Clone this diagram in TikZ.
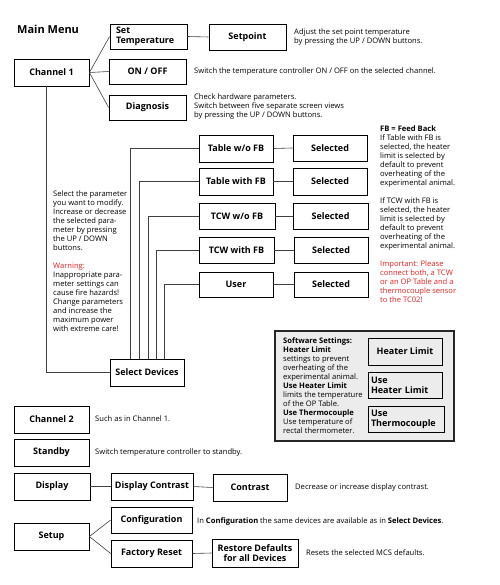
\documentclass[tikz,border=0pt]{standalone}
\usepackage{fontspec}
\setmainfont{Open Sans}
\usetikzlibrary{shadows}
\definecolor{warnred}{RGB}{230,30,30}
\definecolor{swgray}{RGB}{236,236,236}
\begin{document}
\begin{tikzpicture}[x=1pt,y=-1pt,
  box/.style={draw=black, line width=0.8pt, fill=white, inner sep=1pt,
    font=\fontsize{9}{10}\selectfont\bfseries, align=center,
    drop shadow={shadow xshift=0.6pt, shadow yshift=-0.6pt, fill=black!60, opacity=1}},
  lbox/.style={box, align=left, text width=#1, inner xsep=3pt},
  small/.style={font=\fontsize{7.6}{9}\selectfont, inner sep=0pt, align=left},
  conn/.style={draw=black!75, line width=0.6pt}]
\useasboundingbox (0,0) rectangle (499,585);

\node[font=\fontsize{11}{12}\selectfont\bfseries, anchor=west, inner sep=0pt] (title) at (17,29) {Main Menu};

% Channel 1 branch
\node[box, minimum width=75, minimum height=27] (ch1) at (51.5,72.5) {Channel 1};
\node[lbox=65, minimum width=77, minimum height=25, font=\fontsize{9}{10}\selectfont\bfseries] (settemp) at (148.5,36.5) {Set\\Temperature};
\node[box, minimum width=77, minimum height=26] (setpoint) at (247.5,37) {Setpoint};
\node[box, minimum width=77, minimum height=25] (onoff) at (147.5,71.5) {ON / OFF};
\node[box, minimum width=77, minimum height=25] (diag) at (147.5,107.5) {Diagnosis};

\node[small, anchor=north west] (t1) at (294,29) {Adjust the set point temperature\\by pressing the UP / DOWN buttons.};
\node[small, anchor=west] (t2) at (194,72) {Switch the temperature controller ON / OFF on the selected channel.};
\node[small, anchor=north west] (t3) at (194,94) {Check hardware parameters.\\Switch between five separate screen views\\by pressing the UP / DOWN buttons.};

\draw[conn] (ch1.east) -- (settemp.west);
\draw[conn] (ch1.east) -- (onoff.west);
\draw[conn] (ch1.east) -- (diag.west);
\draw[conn] (settemp.east) -- (setpoint.west);

% Devices
\node[box, minimum width=74, minimum height=27] (tab1) at (236,148.5) {Table w/o FB};
\node[box, minimum width=74, minimum height=26] (sel1) at (330,148) {Selected};
\node[box, minimum width=74, minimum height=27] (tab2) at (236,181.5) {Table with FB};
\node[box, minimum width=74, minimum height=27] (sel2) at (330,181.5) {Selected};
\node[box, minimum width=76, minimum height=26] (tcw1) at (237,216) {TCW w/o FB};
\node[box, minimum width=75, minimum height=26] (sel3) at (330.5,216) {Selected};
\node[box, minimum width=75, minimum height=26] (tcw2) at (236.5,250) {TCW with FB};
\node[box, minimum width=74, minimum height=26] (sel4) at (331,250) {Selected};
\node[box, minimum width=74, minimum height=25] (user) at (236,284.5) {User};
\node[box, minimum width=74, minimum height=25] (sel5) at (331,284.5) {Selected};
\node[box, minimum width=74, minimum height=27] (seldev) at (147,372.5) {Select Devices};

\draw[conn] (tab1.east) -- (sel1.west);
\draw[conn] (tab2.east) -- (sel2.west);
\draw[conn] (tcw1.east) -- (sel3.west);
\draw[conn] (tcw2.east) -- (sel4.west);
\draw[conn] (user.east) -- (sel5.west);

\coordinate (v0) at (46,0);
\coordinate (v1) at (130,0);
\coordinate (v2) at (139,0);
\coordinate (v3) at (148,0);
\coordinate (v4) at (156,0);
\coordinate (v5) at (164,0);
\draw[conn] (ch1.south -| v0) |- (seldev.west);
\draw[conn] (seldev.north -| v1) |- (tab1.west);
\draw[conn] (seldev.north -| v2) |- (tab2.west);
\draw[conn] (seldev.north -| v3) |- (tcw1.west);
\draw[conn] (seldev.north -| v4) |- (tcw2.west);
\draw[conn] (seldev.north -| v5) |- (user.west);

\node[small, anchor=north west] (t4) at (53,191) {Select the parameter\\you want to modify.\\Increase or decrease\\the selected para-\\meter by pressing\\the UP / DOWN\\buttons.\\[9pt]
\textcolor{warnred}{Warning:}\\Inappropriate para-\\meter settings can\\cause fire hazards!\\Change parameters\\and increase the\\maximum power\\with extreme care!};

\node[small, anchor=north west] (t5) at (380,126) {\textbf{FB = Feed Back}\\If Table with FB is\\selected, the heater\\limit is selected by\\default to prevent\\overheating of the\\experimental animal.\\[9pt]
If TCW with FB is\\selected, the heater\\limit is selected by\\default to prevent\\overheating of the\\experimental animal.\\[9pt]
\textcolor{warnred}{Important: Please}\\\textcolor{warnred}{connect both, a TCW}\\\textcolor{warnred}{or an OP Table and a}\\\textcolor{warnred}{thermocouple sensor}\\\textcolor{warnred}{to the TC02!}};

% Software settings
\node[draw=black!85, line width=1.3pt, fill=swgray, minimum width=179, minimum height=110, inner sep=0pt] (sw) at (364.5,386) {};
\node[small, anchor=north west] (t6) at (283,337) {\textbf{Software Settings:}\\\textbf{Heater Limit}\\settings to prevent\\overheating of the\\experimental animal.\\\textbf{Use Heater Limit}\\limits the temperature\\of the OP Table.\\\textbf{Use Thermocouple}\\Use temperature of\\rectal thermometer.};
\node[box, minimum width=74, minimum height=27, fill=swgray] (hl) at (405,351.5) {Heater Limit};
\node[lbox=68, minimum width=74, minimum height=26, fill=swgray, font=\fontsize{9}{10}\selectfont\bfseries] (uhl) at (405,385) {Use\\Heater Limit};
\node[lbox=70, minimum width=76, minimum height=26, fill=swgray, font=\fontsize{9}{10}\selectfont\bfseries] (utc) at (406,419) {Use\\Thermocouple};

% Lower menu
\node[box, minimum width=75, minimum height=27] (ch2) at (51.5,419.5) {Channel 2};
\node[small, anchor=west] (t7) at (95,419) {Such as in Channel 1.};
\node[box, minimum width=75, minimum height=27] (standby) at (51.5,452.5) {Standby};
\node[small, anchor=west] (t8) at (95,453) {Switch temperature controller to standby.};

\node[box, minimum width=76, minimum height=27] (display) at (52,486.5) {Display};
\node[box, minimum width=82, minimum height=27] (dispc) at (152,486.5) {Display Contrast};
\node[box, minimum width=74, minimum height=27] (contrast) at (250,487.5) {Contrast};
\node[small, anchor=west] (t9) at (295,488) {Decrease or increase display contrast.};
\draw[conn] (display.east) -- (dispc.west);
\draw[conn] (dispc.east) -- (contrast.west);

\node[box, minimum width=75, minimum height=27] (setup) at (51.5,536.5) {Setup};
\node[box, minimum width=81, minimum height=26] (config) at (151.5,520) {Configuration};
\node[box, minimum width=81, minimum height=27] (freset) at (151.5,553.5) {Factory Reset};
\node[box, minimum width=86, minimum height=28, font=\fontsize{9}{10}\selectfont\bfseries] (restore) at (255,553) {Restore Defaults\\for all Devices};
\node[small, anchor=west] (t10) at (197,521) {In \textbf{Configuration} the same devices are available as in \textbf{Select Devices}.};
\node[small, anchor=west] (t11) at (306,553) {Resets the selected MCS defaults.};
\draw[conn] (setup.east) -- (config.west);
\draw[conn] (setup.east) -- (freset.west);
\draw[conn] (freset.east) -- (restore.west);
\end{tikzpicture}
\end{document}
